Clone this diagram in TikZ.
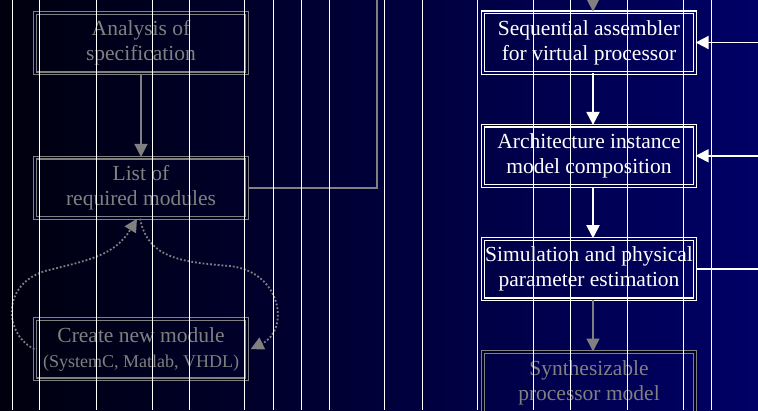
\documentclass[tikz,border=0pt]{standalone}
\usepackage{fontspec}
\setmainfont{Liberation Serif}
\usetikzlibrary{arrows.meta,positioning}
\definecolor{bgleft}{RGB}{0,0,14}
\definecolor{bgright}{RGB}{0,0,102}
\definecolor{greyline}{RGB}{128,128,128}

\begin{document}
\begin{tikzpicture}[x=1pt, y=-1pt,
  font=\fontsize{21.5}{25}\selectfont,
  box/.style={draw, line width=1.3pt, double distance=1.5pt, align=center, minimum width=212pt, minimum height=60.5pt, inner sep=0pt},
  dimbox/.style={box, draw=greyline, double=bgright!22!bgleft, text=greyline},
  litbox/.style={box, draw=white, double=bgright!85!bgleft, text=white},
  dimarrow/.style={-{Triangle[length=13pt,width=13pt]}, greyline, line width=1.6pt},
  litarrow/.style={-{Triangle[length=13pt,width=13pt]}, white, line width=1.9pt},
  dimline/.style={greyline, line width=1.6pt},
  litline/.style={white, line width=1.9pt},
  loop/.style={-{Triangle[length=13pt,width=13pt]}, greyline, line width=1.8pt, dash pattern=on 1.8pt off 2pt},
  grid/.style={white, line width=1pt}
]

\useasboundingbox (0,0) rectangle (758,410);
\shade[left color=bgleft, right color=bgright] (0,0) rectangle (758,410);

% left column
\node[dimbox] (ana) at (141,43) {Analysis of\\specification};
\node[dimbox, below=83pt of ana] (list) {List of\\required modules};
\node[dimbox, below=99.5pt of list] (create) {Create new module\\{\fontsize{18}{23}\selectfont(SystemC, Matlab, VHDL)}};

% right column
\node[litbox] (seq) at (589,42.5) {Sequential assembler\\for virtual processor};
\node[litbox, below=51.5pt of seq] (arch) {Architecture instance\\model composition};
\node[litbox, below=51.5pt of arch] (sim) {Simulation and physical\\parameter estimation};
\node[dimbox, below=51.5pt of sim] (synth) {Synthesizable\\processor model};

\coordinate (topout) at (377,-2);
\coordinate (topin) at (593,-2);
\coordinate (edge) at (760,0);

\draw[dimarrow] (ana) -- (list);
\draw[dimline] (list.east) -| (topout);
\draw[dimarrow] (topin) -- ([xshift=4pt]seq.north);
\draw[litarrow] ([xshift=4pt]seq.south) -- ([xshift=4pt]arch.north);
\draw[litarrow] ([xshift=4pt]arch.south) -- ([xshift=4pt]sim.north);
\draw[dimarrow] ([xshift=4pt]sim.south) -- ([xshift=4pt]synth.north);
\draw[litarrow] (seq.east -| edge) -- (seq.east);
\draw[litarrow] (arch.east -| edge) -- (arch.east);
\draw[litline] (sim.east) -- (sim.east -| edge);

% module loop
\draw[loop] (create.west) .. controls (5,335) and (0,285) .. (45,271)
  .. controls (90,260) and (115,255) .. ([xshift=-4pt]list.south);
\draw[loop] ([xshift=-1pt]list.south) .. controls (148,258) and (180,262) .. (230,266)
  .. controls (282,272) and (290,330) .. ([xshift=3pt]create.east);

\foreach \x in {12,39,96,152,189,244,273,301,329,384,422,477,533,570,627,683,711}
  \draw[grid] (\x,0) -- (\x,410);

\end{tikzpicture}
\end{document}
